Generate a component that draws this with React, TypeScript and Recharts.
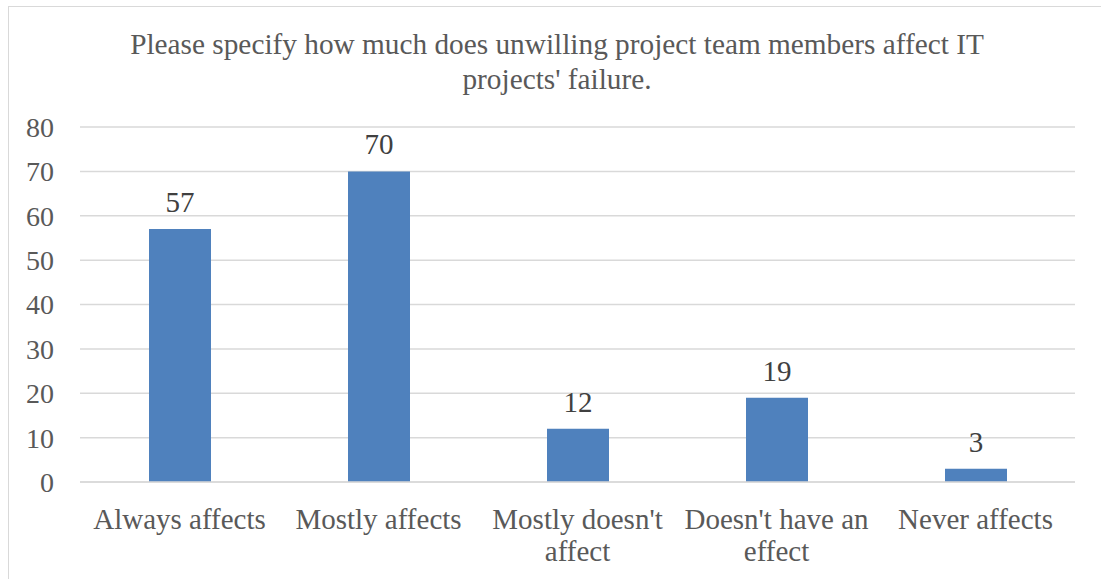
import { Bar, BarChart, CartesianGrid, LabelList, XAxis, YAxis } from 'recharts';

const categories = [
  'Always affects',
  'Mostly affects',
  "Mostly doesn't affect",
  "Doesn't have an effect",
  'Never affects',
];
const responses = [57, 70, 12, 19, 3];
const yTicks = [0, 10, 20, 30, 40, 50, 60, 70, 80];

const titleLines = [
  'Please specify how much does unwilling project team members affect IT',
  "projects' failure.",
];

const FONT = '"Liberation Serif", "DejaVu Serif", serif';
const GRAY = '#595959';

const data = categories.map((c, i) => ({ name: c, value: responses[i] }));

// greedy wrap on words, roughly the band width
const wrap = (s: string, max = 15) => {
  const lines: string[] = [];
  let cur = '';
  for (const w of s.split(' ')) {
    const next = cur ? `${cur} ${w}` : w;
    if (next.length > max && cur) {
      lines.push(cur);
      cur = w;
    } else cur = next;
  }
  if (cur) lines.push(cur);
  return lines;
};

function CategoryTick({ x, y, payload }: any) {
  const lines = wrap(String(payload.value));
  return (
    <text
      x={x}
      y={y}
      textAnchor="middle"
      fill={GRAY}
      style={{ fontFamily: FONT, fontSize: 29 }}
    >
      {lines.map((l, i) => (
        <tspan key={i} x={x} y={y + 39 + i * 32}>
          {l}
        </tspan>
      ))}
    </text>
  );
}

export default function App() {
  return (
    <div
      style={{
        position: 'absolute',
        left: 0,
        top: 0,
        width: 1101,
        height: 579,
        overflow: 'hidden',
        background: '#fff',
        fontFamily: FONT,
      }}
    >
      <div
        style={{
          position: 'absolute',
          left: 8,
          top: 6,
          width: 1110,
          height: 600,
          border: '1px solid #d9d9d9',
        }}
      />
      <div
        style={{
          position: 'absolute',
          left: 0,
          top: 27,
          width: 1114,
          textAlign: 'center',
          color: GRAY,
          fontSize: 29.3,
          lineHeight: '35px',
        }}
      >
        {titleLines.map((l) => (
          <div key={l}>{l}</div>
        ))}
      </div>
      <div style={{ position: 'absolute', left: 0, top: 0 }}>
        <BarChart
          width={1101}
          height={579}
          data={data}
          margin={{ top: 127, right: 26, bottom: 0, left: 0 }}
        >
          <CartesianGrid vertical={false} stroke="#d9d9d9" strokeWidth={1.5} />
          <XAxis
            dataKey="name"
            axisLine={{ stroke: '#d9d9d9', strokeWidth: 1.5 }}
            tickLine={false}
            height={97}
            interval={0}
            tick={<CategoryTick />}
          />
          <YAxis
            domain={[0, 80]}
            ticks={yTicks}
            width={80}
            axisLine={false}
            tickLine={false}
            tickSize={0}
            tickMargin={26}
            tick={{ fill: GRAY, fontSize: 28, fontFamily: FONT }}
          />
          <Bar dataKey="value" fill="#4F81BD" barSize={62} isAnimationActive={false}>
            <LabelList
              dataKey="value"
              position="top"
              offset={17}
              fill="#404040"
              style={{ fontSize: 29, fontFamily: FONT }}
            />
          </Bar>
        </BarChart>
      </div>
    </div>
  );
}
